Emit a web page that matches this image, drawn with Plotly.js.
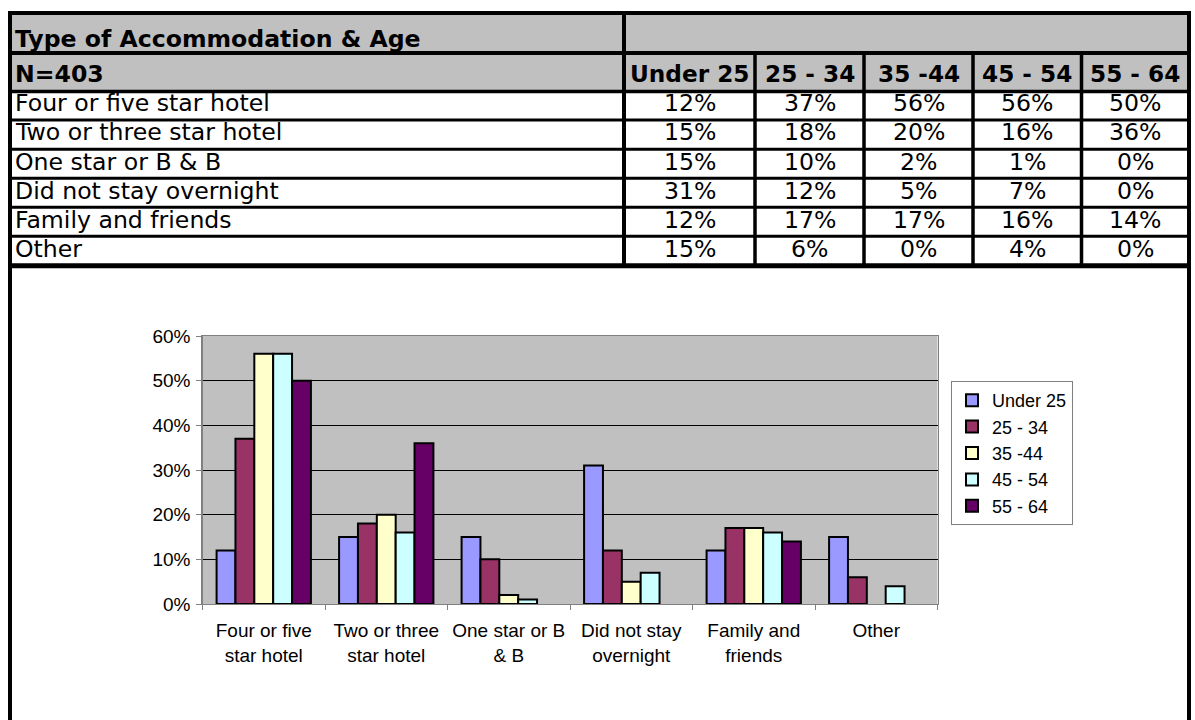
<!DOCTYPE html>
<html>
<head>
<meta charset="utf-8">
<script src="https://cdn.plot.ly/plotly-3.0.1.min.js"></script>
<style>
  html, body { margin: 0; padding: 0; background: #ffffff; }
  #chart { width: 1195px; height: 720px; }
</style>
</head>
<body>
<div id="chart"></div>
<script>
// ---------- DATA ----------
const tableTitle = "Type of Accommodation & Age";
const sampleLabel = "N=403";
const categories = ["Four or five star hotel", "Two or three star hotel", "One star or B & B", "Did not stay overnight", "Family and friends", "Other"];
const chartLabels = ["Four or five<br>star hotel", "Two or three<br>star hotel", "One star or B<br>& B", "Did not stay<br>overnight", "Family and<br>friends", "Other"];
const ageGroups = ["Under 25", "25 - 34", "35 -44", "45 - 54", "55 - 64"];
const under25  = [12, 15, 15, 31, 12, 15];
const age25_34 = [37, 18, 10, 12, 17, 6];
const age35_44 = [56, 20, 2, 5, 17, 0];
const age45_54 = [56, 16, 1, 7, 16, 4];
const age55_64 = [50, 36, 0, 0, 14, 0];
const seriesColors = ["#9999FF", "#993366", "#FFFFCC", "#CCFFFF", "#660066"];
const yTicks = [0, 10, 20, 30, 40, 50, 60];
const yTickLabels = ["0%", "10%", "20%", "30%", "40%", "50%", "60%"];

// ---------- LAYOUT HELPERS ----------
const W = 1195, H = 720;
const px = x => x / W;
const py = y => 1 - y / H;

const seriesList = [under25, age25_34, age35_44, age45_54, age55_64];

const traces = seriesList.map((vals, i) => ({
  type: "bar",
  name: ageGroups[i],
  x: categories,
  y: vals,
  marker: { color: seriesColors[i], line: { color: "#000000", width: vals.map(v => v === 0 ? 0 : 2) } },
  hoverinfo: "skip"
}));

// ---------- TABLE (shapes + annotations) ----------
const colLines = [10, 624, 755, 864, 973, 1081.5, 1189];
const rowLines = [13, 53, 91.5, 120, 149.3, 178.3, 207.3, 236.2, 265.8];
const gray = "#C0C0C0";
const shapes = [];
shapes.push({ type: "rect", xref: "paper", yref: "paper", layer: "below",
  x0: px(10), x1: px(1189), y0: py(13), y1: py(91.5), fillcolor: gray, line: { width: 0 } });
rowLines.forEach((y, i) => {
  let w = 3;
  if (i <= 1) w = 4;
  if (i === rowLines.length - 1) w = 5;
  if (i === 2) w = 3.5;
  shapes.push({ type: "line", xref: "paper", yref: "paper",
    x0: px(8), x1: px(1191), y0: py(y), y1: py(y), line: { color: "#000000", width: w } });
});
[10, 1189].forEach(x => shapes.push({ type: "line", xref: "paper", yref: "paper",
  x0: px(x), x1: px(x), y0: py(11), y1: py(730), line: { color: "#000000", width: 4 } }));
shapes.push({ type: "line", xref: "paper", yref: "paper",
  x0: px(624), x1: px(624), y0: py(11), y1: py(266), line: { color: "#000000", width: 4 } });
colLines.slice(2, 6).forEach(x => shapes.push({ type: "line", xref: "paper", yref: "paper",
  x0: px(x), x1: px(x), y0: py(53), y1: py(266), line: { color: "#000000", width: 3.5 } }));

const tFont = { family: "DejaVu Sans, Verdana, sans-serif", size: 23.6, color: "#000000" };
const annotations = [];
annotations.push({ xref: "paper", yref: "paper", x: px(13), y: py(39), xanchor: "left", yanchor: "middle",
  text: "<b>" + tableTitle + "</b>", showarrow: false, font: tFont });
annotations.push({ xref: "paper", yref: "paper", x: px(13), y: py(74), xanchor: "left", yanchor: "middle",
  text: "<b>" + sampleLabel + "</b>", showarrow: false, font: tFont });
const colCenters = [];
for (let c = 1; c < colLines.length - 1; c++) colCenters.push((colLines[c] + colLines[c + 1]) / 2);
ageGroups.forEach((g, j) => annotations.push({ xref: "paper", yref: "paper", x: px(colCenters[j]), y: py(74),
  xanchor: "center", yanchor: "middle", text: "<b>" + g + "</b>", showarrow: false,
  font: Object.assign({}, tFont, { size: 23.2 }) }));
const rowMid = [103, 132.3, 161.5, 190.7, 220, 249];
categories.forEach((cat, i) => {
  annotations.push({ xref: "paper", yref: "paper", x: px(13), y: py(rowMid[i]), xanchor: "left", yanchor: "middle",
    text: cat, showarrow: false, font: tFont });
  seriesList.forEach((vals, j) => annotations.push({ xref: "paper", yref: "paper",
    x: px(colCenters[j]), y: py(rowMid[i]), xanchor: "center", yanchor: "middle",
    text: vals[i] + "%", showarrow: false, font: tFont }));
});

const cFont = { family: "Liberation Sans, Arial, sans-serif", size: 18, color: "#000000" };
const xFont = { family: "Liberation Sans, Arial, sans-serif", size: 19, color: "#000000" };

const layout = {
  width: W, height: H,
  margin: { l: 0, r: 0, t: 0, b: 0, pad: 0 },
  paper_bgcolor: "#ffffff",
  plot_bgcolor: gray,
  barmode: "group",
  bargap: 0.23,
  bargroupgap: 0,
  font: cFont,
  showlegend: true,
  legend: {
    x: px(951), xanchor: "left", y: py(381), yanchor: "top",
    bgcolor: "#ffffff", bordercolor: "#808080", borderwidth: 1,
    font: cFont, tracegroupgap: 0, traceorder: "normal", itemwidth: 30
  },
  xaxis: {
    domain: [px(202.5), px(937.5)],
    type: "category",
    tickvals: categories,
    ticktext: chartLabels,
    tickson: "boundaries",
    ticks: "outside", ticklen: 5, tickcolor: "#808080", tickwidth: 1,
    showline: true, linecolor: "#808080", linewidth: 1.2, mirror: true,
    showgrid: false, zeroline: false,
    tickfont: xFont, tickangle: 0, ticklabelstandoff: 9, fixedrange: true
  },
  yaxis: {
    domain: [py(604), py(336)],
    range: [0, 60],
    tickmode: "array",
    tickvals: yTicks,
    ticktext: yTickLabels,
    ticks: "outside", ticklen: 5, tickcolor: "#808080", tickwidth: 1,
    showline: true, linecolor: "#808080", linewidth: 1.2, mirror: true,
    showgrid: true, gridcolor: "#000000", gridwidth: 1,
    zeroline: false, tickfont: xFont, ticklabelstandoff: 2, fixedrange: true
  },
  shapes: shapes,
  annotations: annotations
};

Plotly.newPlot("chart", traces, layout, { displayModeBar: false, staticPlot: true });
</script>
</body>
</html>
